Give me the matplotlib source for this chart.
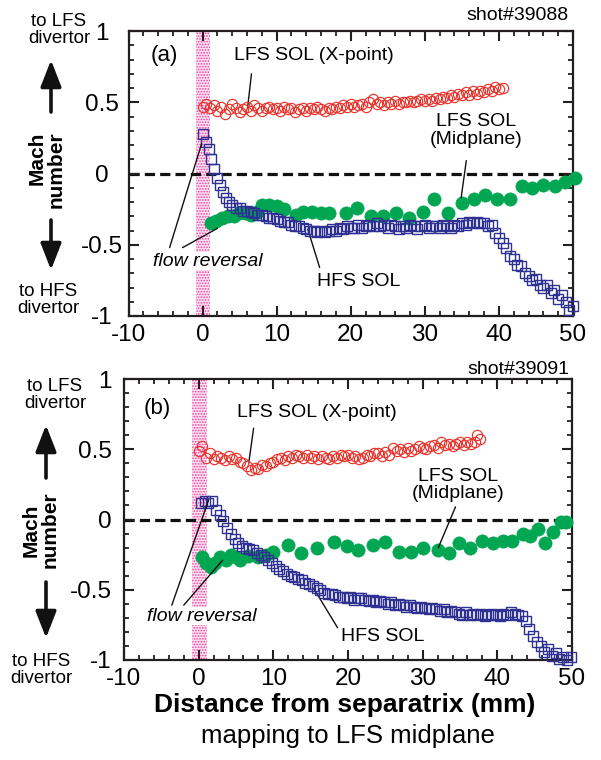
import matplotlib
matplotlib.use("Agg")
import matplotlib.pyplot as plt
from matplotlib.ticker import MultipleLocator

plt.rcParams['font.family'] = ['Liberation Sans', 'DejaVu Sans']
plt.rcParams['hatch.linewidth'] = 0.8
plt.rcParams['axes.unicode_minus'] = False

# ---------------- data: panel (a) shot#39088 ----------------
a_lfsx_x = [0, 0.5, 1.0, 1.5, 2.0, 2.5, 3.0, 3.5, 4.0, 4.5, 5.0, 5.5, 6.0, 6.5, 7.0, 7.5, 8.0, 8.5,
            9.0, 9.5, 10, 10.5, 11, 11.5, 12, 12.5, 13, 13.5, 14, 14.5, 15, 15.5, 16, 16.5, 17, 17.5,
            18, 18.5, 19, 19.5, 20, 20.5, 21, 21.5, 22, 22.5, 23, 23.5, 24, 24.5, 25, 25.5, 26, 26.5,
            27, 27.5, 28, 28.5, 29, 29.5, 30, 30.5, 31, 31.5, 32, 32.5, 33, 33.5, 34, 34.5, 35, 35.5,
            36, 36.5, 37, 37.5, 38, 38.5, 39, 39.5, 40, 40.5]
a_lfsx_y = [0.47, 0.49, 0.46, 0.48, 0.44, 0.47, 0.42, 0.45, 0.49, 0.46, 0.43, 0.45, 0.47, 0.44, 0.48, 0.46,
            0.44, 0.46, 0.47, 0.45, 0.46, 0.44, 0.47, 0.45, 0.46, 0.43, 0.45, 0.46, 0.44, 0.46, 0.45, 0.47,
            0.45, 0.44, 0.46, 0.45, 0.47, 0.46, 0.48, 0.47, 0.49, 0.47, 0.48, 0.49, 0.47, 0.50, 0.52, 0.49,
            0.50, 0.48, 0.50, 0.49, 0.51, 0.49, 0.50, 0.50, 0.51, 0.50, 0.51, 0.52, 0.51, 0.52, 0.51, 0.53,
            0.52, 0.54, 0.53, 0.55, 0.54, 0.56, 0.55, 0.57, 0.55, 0.58, 0.56, 0.58, 0.57, 0.59, 0.58, 0.61,
            0.59, 0.60]

a_hfs_x = [0.0, 0.4, 0.8, 1.2, 1.6, 2.0, 2.4, 2.8, 3.2, 3.6, 4.0, 4.5, 5.0, 5.5, 6.0, 6.5, 7.0, 7.5,
           8.0, 8.5, 9.0, 9.5, 10.0, 10.5, 11.0, 11.5, 12.0, 12.5, 13.0, 13.5, 14.0, 14.5, 15.0, 15.5,
           16.0, 16.5, 17.0, 17.5, 18.0, 18.5, 19.0, 19.5, 20.0, 20.5, 21.0, 21.5, 22.0, 22.5, 23.0,
           23.5, 24.0, 24.5, 25.0, 25.5, 26.0, 26.5, 27.0, 27.5, 28.0, 28.5, 29.0, 29.5, 30.0, 30.5,
           31.0, 31.5, 32.0, 32.5, 33.0, 33.5, 34.0, 34.5, 35.0, 35.5, 36.0, 36.5, 37.0, 37.5, 38.0,
           38.5, 39.0, 39.5, 40.0, 40.5, 41.0, 41.5, 42.0, 42.5, 43.0, 43.5, 44.0, 44.5, 45.0, 45.5,
           46.0, 46.5, 47.0, 47.5, 48.0, 48.5, 49.0, 49.5, 50.0]
a_hfs_y = [0.28, 0.22, 0.17, 0.10, 0.03, -0.03, -0.08, -0.13, -0.17, -0.20, -0.22, -0.24, -0.24, -0.26,
           -0.26, -0.27, -0.28, -0.29, -0.29, -0.30, -0.31, -0.31, -0.32, -0.33, -0.34, -0.34, -0.36,
           -0.37, -0.37, -0.38, -0.39, -0.40, -0.40, -0.41, -0.40, -0.41, -0.40, -0.39, -0.40, -0.38,
           -0.39, -0.37, -0.38, -0.38, -0.36, -0.38, -0.37, -0.36, -0.37, -0.35, -0.37, -0.36, -0.38,
           -0.36, -0.37, -0.39, -0.37, -0.38, -0.36, -0.37, -0.39, -0.37, -0.36, -0.38, -0.37, -0.37,
           -0.38, -0.36, -0.37, -0.38, -0.36, -0.37, -0.35, -0.36, -0.34, -0.35, -0.34, -0.35, -0.35,
           -0.37, -0.36, -0.42, -0.45, -0.49, -0.52, -0.58, -0.60, -0.64, -0.65, -0.70, -0.72, -0.75,
           -0.74, -0.78, -0.80, -0.78, -0.84, -0.82, -0.88, -0.85, -0.90, -0.96, -0.93]

a_lfsm_x = [1.2, 1.8, 2.6, 3.4, 4.2, 4.9, 5.7, 6.5, 7.3, 8.0, 9.0, 10.0, 11.0, 12.6, 13.5, 14.8, 16.0,
            17.0, 19.4, 20.9, 22.8, 24.3, 26.1, 27.9, 29.7, 31.3, 33.1, 35.0, 36.7, 38.1, 39.7, 41.5,
            43.1, 44.4, 46.0, 47.6, 48.9, 50.3]
a_lfsm_y = [-0.35, -0.33, -0.31, -0.30, -0.30, -0.28, -0.28, -0.29, -0.27, -0.22, -0.22, -0.23, -0.25,
            -0.29, -0.27, -0.27, -0.28, -0.28, -0.28, -0.24, -0.30, -0.30, -0.28, -0.31, -0.27, -0.18,
            -0.28, -0.21, -0.18, -0.15, -0.18, -0.18, -0.09, -0.10, -0.08, -0.09, -0.06, -0.03]

# ---------------- data: panel (b) shot#39091 ----------------
b_lfsx_x = [0, 0.5, 1.0, 1.5, 2.0, 2.5, 3.0, 3.5, 4.0, 4.5, 5.0, 5.5, 6.0, 6.5, 7.0, 7.5, 8.0, 8.5,
            9.0, 9.5, 10, 10.5, 11, 11.5, 12, 12.5, 13, 13.5, 14, 14.5, 15, 15.5, 16, 16.5, 17, 17.5,
            18, 18.5, 19, 19.5, 20, 20.5, 21, 21.5, 22, 22.5, 23, 23.5, 24, 24.5, 25, 25.5, 26, 26.5,
            27, 27.5, 28, 28.5, 29, 29.5, 30, 30.5, 31, 31.5, 32, 32.5, 33, 33.5, 34, 34.5, 35, 35.5,
            36, 36.5, 37, 37.3, 37.7]
b_lfsx_y = [0.49, 0.52, 0.44, 0.47, 0.43, 0.45, 0.44, 0.42, 0.45, 0.43, 0.44, 0.41, 0.40, 0.38, 0.35,
            0.37, 0.36, 0.39, 0.38, 0.40, 0.41, 0.43, 0.44, 0.42, 0.45, 0.44, 0.46, 0.45, 0.44, 0.46,
            0.44, 0.45, 0.43, 0.45, 0.44, 0.43, 0.45, 0.44, 0.46, 0.45, 0.46, 0.44, 0.45, 0.43, 0.44,
            0.46, 0.45, 0.47, 0.47, 0.45, 0.48, 0.46, 0.51, 0.49, 0.50, 0.48, 0.51, 0.49, 0.50, 0.52,
            0.51, 0.50, 0.52, 0.53, 0.51, 0.55, 0.53, 0.54, 0.52, 0.54, 0.55, 0.53, 0.55, 0.54, 0.55,
            0.60, 0.57]

b_hfs_x = [0.3, 0.8, 1.3, 1.8, 2.3, 2.8, 3.3, 3.8, 4.3, 4.8, 5.3, 5.8, 6.3, 6.8, 7.3, 7.8, 8.3, 8.8,
           9.3, 9.8, 10.3, 10.8, 11.3, 11.8, 12.3, 12.8, 13.3, 13.8, 14.3, 14.8, 15.3, 15.8, 16.3,
           16.8, 17.3, 17.8, 18.3, 18.8, 19.3, 19.8, 20.3, 20.8, 21.3, 21.8, 22.3, 22.8, 23.3, 23.8,
           24.3, 24.8, 25.3, 25.8, 26.3, 26.8, 27.3, 27.8, 28.3, 28.8, 29.3, 29.8, 30.3, 30.8, 31.3,
           31.8, 32.3, 32.8, 33.3, 33.8, 34.3, 34.8, 35.3, 35.8, 36.3, 36.8, 37.3, 37.8, 38.3, 38.8,
           39.3, 39.8, 40.3, 40.8, 41.3, 41.8, 42.3, 42.8, 43.3, 43.8, 44.3, 44.8, 45.3, 45.8, 46.3,
           46.8, 47.3, 47.8, 48.3, 48.8, 49.3, 49.8]
b_hfs_y = [0.12, 0.13, 0.12, 0.13, 0.07, 0.03, -0.01, -0.06, -0.10, -0.14, -0.17, -0.19, -0.20, -0.21,
           -0.22, -0.24, -0.25, -0.27, -0.29, -0.31, -0.33, -0.35, -0.37, -0.39, -0.40, -0.41, -0.42,
           -0.43, -0.45, -0.46, -0.47, -0.49, -0.50, -0.52, -0.53, -0.53, -0.54, -0.55, -0.55, -0.56,
           -0.55, -0.57, -0.56, -0.56, -0.57, -0.58, -0.57, -0.59, -0.58, -0.59, -0.60, -0.59, -0.61,
           -0.60, -0.61, -0.62, -0.61, -0.62, -0.63, -0.62, -0.63, -0.64, -0.63, -0.64, -0.65, -0.64,
           -0.66, -0.65, -0.66, -0.67, -0.68, -0.66, -0.68, -0.67, -0.68, -0.67, -0.69, -0.68, -0.67,
           -0.68, -0.69, -0.67, -0.68, -0.66, -0.67, -0.68, -0.69, -0.72, -0.78, -0.83, -0.87, -0.90,
           -0.94, -0.92, -0.97, -0.95, -0.99, -0.98, -1.00, -0.98]

b_lfsm_x = [0.5, 1.0, 1.6, 2.2, 2.9, 3.6, 4.3, 5.0, 5.6, 6.6, 7.9, 9.0, 10.0, 11.9, 13.7, 15.9, 18.1,
            19.9, 21.4, 23.3, 25.0, 26.8, 28.4, 30.0, 32.0, 33.5, 34.8, 36.4, 38.0, 39.4, 40.7, 42.0,
            43.4, 44.4, 45.5, 46.4, 47.4, 48.5, 49.2]
b_lfsm_y = [-0.27, -0.31, -0.34, -0.31, -0.27, -0.29, -0.25, -0.27, -0.29, -0.26, -0.27, -0.25, -0.23,
            -0.18, -0.24, -0.20, -0.16, -0.19, -0.22, -0.18, -0.16, -0.23, -0.23, -0.20, -0.22, -0.24,
            -0.17, -0.20, -0.15, -0.17, -0.15, -0.15, -0.10, -0.12, -0.07, -0.17, -0.09, -0.02, -0.02]

# tick settings
xticks = [-10, 0, 10, 20, 30, 40, 50]
xticklabels = ['-10', '0', '10', '20', '30', '40', '50']
yticks = [-1, -0.5, 0, 0.5, 1]
yticklabels = ['-1', '-0.5', '0', '0.5', '1']

RED = '#e8342c'
BLUE = '#2e3192'
GREEN = '#00a651'
PINK = '#f23c9e'

W, H = 601, 760
fig = plt.figure(figsize=(W / 100, H / 100), dpi=100)


def fx(px):
    return px / W


def fy(py):
    return 1 - py / H


ax1 = fig.add_axes([fx(128.5), fy(316), (573 - 128.5) / W, 285 / H])
ax2 = fig.add_axes([fx(124), fy(660), (572 - 124) / W, 281 / H])


def style(ax, band, center_labels):
    ax.set_xlim(-10, 50)
    ax.set_ylim(-1, 1)
    ax.set_xticks(xticks)
    ax.set_xticklabels(xticklabels)
    ax.set_yticks(yticks)
    ax.set_yticklabels(yticklabels)
    ax.xaxis.set_minor_locator(MultipleLocator(2))
    ax.yaxis.set_minor_locator(MultipleLocator(0.1))
    for s in ax.spines.values():
        s.set_linewidth(1.6)
        s.set_color('#231f20')
    ax.tick_params(which='both', direction='in', top=True, right=True, color='#231f20')
    ax.tick_params(which='major', length=7.5, width=1.5, labelsize=17.5, pad=5)
    ax.tick_params(which='minor', length=3.5, width=1.3)
    ax.tick_params(axis='x', which='major', pad=6)
    if center_labels:
        ax.tick_params(axis='y', which='major', pad=19)
        for lab in ax.get_yticklabels():
            lab.set_horizontalalignment('center')
    else:
        ax.tick_params(axis='y', which='major', pad=9)
    ax.axvspan(band[0], band[1], facecolor='#fde3f2', edgecolor=PINK, hatch='......',
               linewidth=0, zorder=0)
    ax.axhline(0, color='#111111', lw=2.3, dashes=(3.2, 1.6), zorder=1)


style(ax1, (-0.95, 0.95), True)
style(ax2, (-0.85, 1.05), False)

for ax, (rx, ry, bx, by, gx, gy) in [
        (ax1, (a_lfsx_x, a_lfsx_y, a_hfs_x, a_hfs_y, a_lfsm_x, a_lfsm_y)),
        (ax2, (b_lfsx_x, b_lfsx_y, b_hfs_x, b_hfs_y, b_lfsm_x, b_lfsm_y))]:
    ax.plot(gx, gy, 'o', ms=9.5, mfc=GREEN, mec=GREEN, mew=0.5, zorder=3, clip_on=False)
    ax.plot(bx, by, 's', ms=7.3, mfc='none', mec=BLUE, mew=1.0, zorder=4, clip_on=False)
    ax.plot(rx, ry, 'o', ms=7.4, mfc='none', mec=RED, mew=0.85, zorder=4, clip_on=False)

lp = dict(arrowstyle='-', color='#111111', lw=1.0, shrinkA=0, shrinkB=0)
fs = 14

# panel (a) annotations
ax1.text(-5.1, 0.83, '(a)', fontsize=16, ha='center', va='center')
ax1.text(4.3, 0.825, 'LFS SOL (X-point)', fontsize=fs, ha='left', va='center')
ax1.annotate('', xy=(6.06, 0.455), xytext=(6.6, 0.70), arrowprops=lp)
ax1.text(36.9, 0.30, 'LFS SOL\n(Midplane)', fontsize=fs, ha='center', va='center', linespacing=1.05)
ax1.annotate('', xy=(34.9, -0.17), xytext=(35.6, 0.09), arrowprops=lp)
ax1.text(15.5, -0.76, 'HFS SOL', fontsize=fs, ha='left', va='center')
ax1.annotate('', xy=(14.2, -0.39), xytext=(15.8, -0.66), arrowprops=lp)
ax1.text(0.67, -0.615, 'flow reversal', fontsize=fs, style='italic', ha='center', va='center',
         bbox=dict(facecolor='white', edgecolor='none', pad=0.5), zorder=5)
ax1.annotate('', xy=(-0.13, 0.21), xytext=(-4.45, -0.52), arrowprops=lp, zorder=6)
ax1.annotate('', xy=(2.0, -0.385), xytext=(-2.7, -0.52), arrowprops=lp, zorder=6)

# panel (b) annotations
ax2.text(-5.6, 0.79, '(b)', fontsize=16, ha='center', va='center')
ax2.text(5.2, 0.765, 'LFS SOL (X-point)', fontsize=fs, ha='left', va='center')
ax2.annotate('', xy=(6.7, 0.40), xytext=(7.36, 0.65), arrowprops=lp)
ax2.text(34.7, 0.245, 'LFS SOL\n(Midplane)', fontsize=fs, ha='center', va='center', linespacing=1.05)
ax2.annotate('', xy=(32.1, -0.20), xytext=(34.4, 0.09), arrowprops=lp)
ax2.text(19.0, -0.836, 'HFS SOL', fontsize=fs, ha='left', va='center')
ax2.annotate('', xy=(15.4, -0.49), xytext=(18.6, -0.77), arrowprops=lp)
ax2.text(0.4, -0.687, 'flow reversal', fontsize=fs, style='italic', ha='center', va='center',
         bbox=dict(facecolor='white', edgecolor='none', pad=0.5), zorder=5)
ax2.annotate('', xy=(1.34, 0.14), xytext=(-3.6, -0.61), arrowprops=lp, zorder=6)
ax2.annotate('', xy=(3.2, -0.29), xytext=(-2.0, -0.61), arrowprops=lp, zorder=6)

# shot labels
fig.text(fx(569), fy(15), 'shot#39088', fontsize=14, ha='right', va='center')
fig.text(fx(569), fy(369), 'shot#39091', fontsize=14, ha='right', va='center')

# left-side labels
sfs = 13.5
fig.text(fx(59), fy(30), 'to LFS\ndivertor', fontsize=sfs, ha='center', va='center', linespacing=1.0)
fig.text(fx(48), fy(300), 'to HFS\ndivertor', fontsize=sfs, ha='center', va='center', linespacing=1.0)
fig.text(fx(47), fy(170), 'Mach\nnumber', fontsize=15, fontweight='bold', rotation=90,
         ha='center', va='center', multialignment='right', linespacing=1.0)
fig.text(fx(55), fy(395), 'to LFS\ndivertor', fontsize=sfs, ha='center', va='center', linespacing=1.0)
fig.text(fx(41), fy(670), 'to HFS\ndivertor', fontsize=sfs, ha='center', va='center', linespacing=1.0)
fig.text(fx(41), fy(530), 'Mach\nnumber', fontsize=15, fontweight='bold', rotation=90,
         ha='center', va='center', multialignment='center', linespacing=1.0)

ap = dict(arrowstyle='-|>,head_length=0.9,head_width=0.35', color='#111111', lw=2.6,
          mutation_scale=18, shrinkA=0, shrinkB=0)
for (x0, y0, x1, y1) in [(51, 112, 51, 60), (51, 220, 51, 270), (46, 478, 46, 425), (46, 582, 46, 638)]:
    ax1.annotate('', xy=(fx(x1), fy(y1)), xytext=(fx(x0), fy(y0)), xycoords='figure fraction',
                 textcoords='figure fraction', arrowprops=ap, annotation_clip=False)

# x labels
fig.text(fx(345), fy(705), 'Distance from separatrix (mm)', fontsize=19, fontweight='bold',
         ha='center', va='center')
fig.text(fx(348), fy(736), 'mapping to LFS midplane', fontsize=18.5, ha='center', va='center')

fig.savefig('out.png', dpi=100)
